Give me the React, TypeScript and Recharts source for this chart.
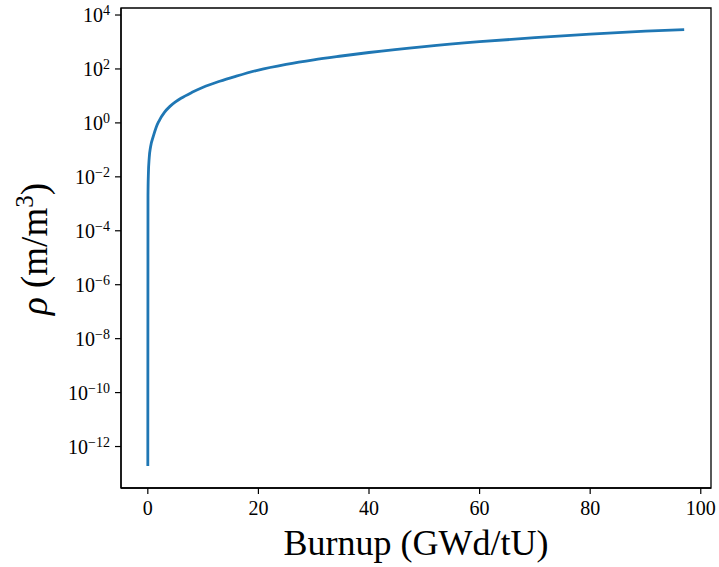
import { LineChart, Line, XAxis, YAxis, ReferenceArea } from "recharts";

// burnup (GWd/tU) and density rho (m/m^3)
const burnup = [0, 0.03, 0.1, 0.25, 0.5, 1, 1.5, 2, 3, 4, 5, 6, 8, 10, 13, 16, 20, 25, 30, 35, 40, 50, 60, 70, 80, 90, 97];
const rho = [
  1.9e-13, 2e-3, 1.26e-2, 0.05, 0.13, 0.32, 0.68, 1.15, 2.45, 4.1, 6.0, 8.2, 13.6, 21, 35, 54, 91, 148, 219, 302, 407,
  676, 1023, 1445, 1950, 2510, 2880,
];

const xTicks = [0, 20, 40, 60, 80, 100];
const yExponents = [-12, -10, -8, -6, -4, -2, 0, 2, 4];
const yTicks = yExponents.map((e) => Math.pow(10, e));

const xDomain = [-4.85, 101.85];
const yDomain = [2.9e-14, 1.82e4];

const data = burnup.map((b, i) => ({ burnup: b, rho: rho[i] }));

const FONT = "'Liberation Serif', 'DejaVu Serif', serif";

function YTick(props: any) {
  const { x, y, payload } = props;
  const e = Math.round(Math.log10(payload.value));
  const sup = e < 0 ? "\u2212" + -e : String(e);
  return (
    <text x={x} y={y + 7} textAnchor="end" fontFamily={FONT} fontSize={20} fill="#000">
      10
      <tspan dy={-7} fontSize={14}>
        {sup}
      </tspan>
    </text>
  );
}

function XTick(props: any) {
  const { x, y, payload } = props;
  return (
    <text x={x} y={y + 21} textAnchor="middle" fontFamily={FONT} fontSize={20} fill="#000">
      {payload.value}
    </text>
  );
}

export default function App() {
  return (
    <div style={{ position: "absolute", left: 0, top: 0, background: "#fff" }}>
      <LineChart width={719} height={567} data={data} margin={{ top: 8, right: 8, left: 0, bottom: 0 }}>
        <XAxis
          dataKey="burnup"
          type="number"
          domain={xDomain}
          allowDataOverflow
          ticks={xTicks}
          height={79}
          tick={<XTick />}
          tickSize={6}
          tickMargin={0}
          axisLine={{ stroke: "#000", strokeWidth: 1.3 }}
          tickLine={{ stroke: "#000", strokeWidth: 1.2 }}
          label={{
            content: (p: any) => (
              <text
                x={p.viewBox.x + p.viewBox.width / 2}
                y={555}
                textAnchor="middle"
                fontFamily={FONT}
                fontSize={36}
                fill="#000"
              >
                Burnup (GWd/tU)
              </text>
            ),
          }}
        />
        <YAxis
          dataKey="rho"
          scale="log"
          domain={yDomain}
          allowDataOverflow
          ticks={yTicks}
          width={121}
          tick={<YTick />}
          tickSize={6}
          tickMargin={5}
          axisLine={{ stroke: "#000", strokeWidth: 1.3 }}
          tickLine={{ stroke: "#000", strokeWidth: 1.2 }}
          label={{
            content: () => (
              <text
                x={0}
                y={0}
                transform="translate(47, 249) rotate(-90)"
                textAnchor="middle"
                fontFamily={FONT}
                fontSize={37}
                fill="#000"
              >
                <tspan fontStyle="italic">ρ</tspan> (m/m
                <tspan dy={-14} fontSize={25}>
                  3
                </tspan>
                <tspan dy={14}>)</tspan>
              </text>
            ),
          }}
        />
        <ReferenceArea
          x1={xDomain[0]}
          x2={xDomain[1]}
          y1={yDomain[0]}
          y2={yDomain[1]}
          fill="none"
          stroke="#000"
          strokeWidth={1.3}
          ifOverflow="visible"
        />
        <Line
          type="monotone"
          dataKey="rho"
          stroke="#1f77b4"
          strokeWidth={2.8}
          dot={false}
          isAnimationActive={false}
        />
      </LineChart>
    </div>
  );
}
